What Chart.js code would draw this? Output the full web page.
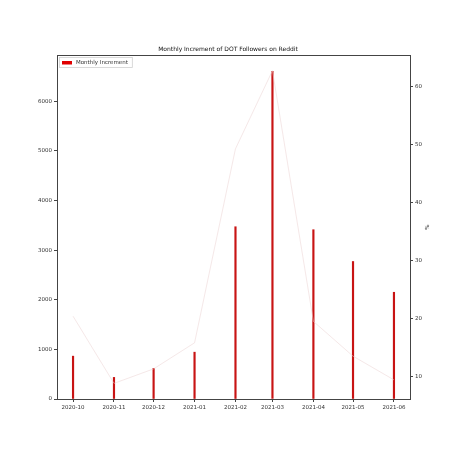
<!DOCTYPE html>
<html>
<head>
<meta charset="utf-8">
<script src="https://cdn.jsdelivr.net/npm/chart.js@4/dist/chart.umd.min.js"></script>
<style>
html,body{margin:0;padding:0;background:#fff;}
#wrap{width:456px;height:456px;}
</style>
</head>
<body>
<div id="wrap"><canvas id="c" width="456" height="456"></canvas></div>
<script>
const months = ['2020-10','2020-11','2020-12','2021-01','2021-02','2021-03','2021-04','2021-05','2021-06'];
const monthlyIncrement = [863, 435, 616, 943, 3470, 6600, 3410, 2770, 2150];
const percentChange = [20.4, 8.8, 11.3, 15.8, 49.3, 62.8, 19.5, 13.5, 9.4];
const leftTicks = [0, 1000, 2000, 3000, 4000, 5000, 6000];
const rightTicks = [10, 20, 30, 40, 50, 60];

const DAY = 86400000;
const t0 = Date.UTC(2020, 9, 1);
const dayOf = s => { const [y, m] = s.split('-').map(Number); return (Date.UTC(y, m - 1, 1) - t0) / DAY; };
const xs = months.map(dayOf);
const span = xs[xs.length - 1] - xs[0];

const font = 'DejaVu Sans';
const txt = '#333';

const boxPlugin = {
  id: 'box',
  afterDraw(chart) {
    const a = chart.chartArea, ctx = chart.ctx;
    ctx.save();
    ctx.strokeStyle = '#444';
    ctx.lineWidth = 1;
    ctx.strokeRect(Math.round(a.left) + 0.5, Math.round(a.top) + 0.5, Math.round(a.right - a.left), Math.round(a.bottom - a.top));
    // legend inside plot area
    const ds = chart.data.datasets[0];
    const lx = a.left + 2, ly = a.top + 2;
    ctx.font = '5.5px ' + font;
    const w = ctx.measureText(ds.label).width;
    ctx.fillStyle = 'rgba(255,255,255,0.8)';
    ctx.strokeStyle = '#d0d0d0';
    ctx.lineWidth = 0.8;
    ctx.fillRect(lx, ly, w + 22, 11);
    ctx.strokeRect(lx + 0.5, ly + 0.5, w + 21, 10);
    ctx.fillStyle = '#e00000';
    ctx.fillRect(lx + 3, ly + 4, 10, 3.5);
    ctx.fillStyle = txt;
    ctx.textBaseline = 'middle';
    ctx.fillText(ds.label, lx + 17, ly + 6);
    ctx.restore();
  }
};

new Chart(document.getElementById('c'), {
  type: 'bar',
  data: {
    datasets: [
      {
        type: 'bar',
        label: 'Monthly Increment',
        data: xs.map((x, i) => ({ x, y: monthlyIncrement[i] })),
        backgroundColor: '#c81414',
        borderWidth: 0,
        barThickness: 1.5,
        yAxisID: 'y',
        order: 1
      },
      {
        type: 'line',
        label: '%',
        data: xs.map((x, i) => ({ x, y: percentChange[i] })),
        borderColor: 'rgba(235,210,210,0.5)',
        borderWidth: 1,
        pointRadius: 0,
        tension: 0,
        yAxisID: 'y1',
        order: 0
      }
    ]
  },
  options: {
    responsive: false,
    animation: false,
    devicePixelRatio: 1,
    layout: { padding: { left: 0, right: 0, top: 0, bottom: 0 } },
    plugins: {
      legend: { display: false },
      tooltip: { enabled: false },
      title: {
        display: true,
        text: 'Monthly Increment of DOT Followers on Reddit',
        color: '#111',
        font: { family: font, size: 6, weight: 'normal' },
        padding: { top: 45.4, bottom: 2.4 }
      }
    },
    scales: {
      x: {
        type: 'linear',
        offset: false,
        min: xs[0] - span * 0.05,
        max: xs[xs.length - 1] + span * 0.05,
        grid: { offset: false, drawOnChartArea: false, tickLength: 3, color: '#444', tickColor: '#444' },
        border: { display: false },
        afterBuildTicks: s => { s.ticks = xs.map(v => ({ value: v })); },
        afterFit: s => { s.height = 57; },
        ticks: {
          autoSkip: false,
          maxRotation: 0,
          padding: 2,
          color: txt,
          font: { family: font, size: 5.5 },
          callback: v => months[xs.indexOf(v)]
        }
      },
      y: {
        position: 'left',
        min: 0,
        max: 6930,
        grid: { drawOnChartArea: false, tickLength: 3, color: '#444', tickColor: '#444' },
        border: { display: false },
        afterBuildTicks: s => { s.ticks = leftTicks.map(v => ({ value: v })); },
        afterFit: s => { s.width = 57; },
        ticks: { padding: 2, color: txt, font: { family: font, size: 5.5 }, callback: v => String(v) }
      },
      y1: {
        position: 'right',
        min: 6.1,
        max: 65.5,
        grid: { drawOnChartArea: false, tickLength: 3, color: '#444', tickColor: '#444' },
        border: { display: false },
        afterBuildTicks: s => { s.ticks = rightTicks.map(v => ({ value: v })); },
        afterFit: s => { s.width = 46; },
        title: { display: true, text: '%', color: txt, font: { family: font, size: 5.5 }, padding: { top: 26, bottom: 0 } },
        ticks: { padding: 2, color: txt, font: { family: font, size: 5.5 }, callback: v => String(v) }
      }
    }
  },
  plugins: [boxPlugin]
});
</script>
</body>
</html>
